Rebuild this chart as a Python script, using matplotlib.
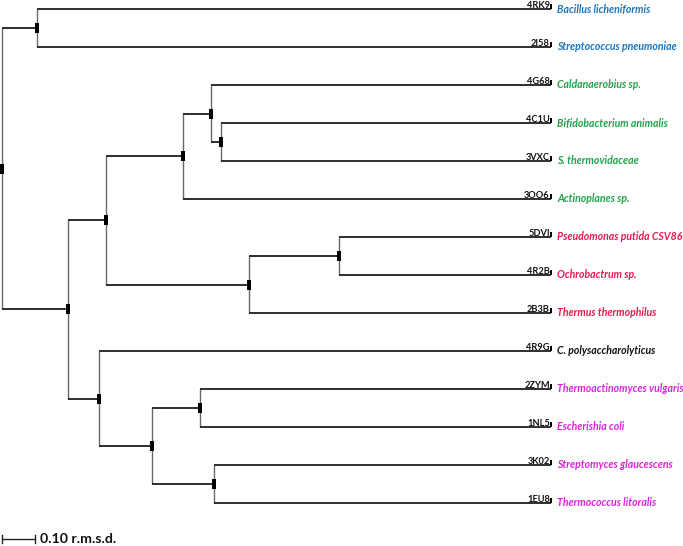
import matplotlib
matplotlib.use("Agg")
import matplotlib.pyplot as plt

# Leaves (top to bottom)
pdb_codes = ["4RK9", "2I58", "4G68", "4C1U", "3VXC", "3OO6", "5DVI", "4R2B",
             "2B3B", "4R9G", "2ZYM", "1NL5", "3K02", "1EU8"]
species = ["Bacillus licheniformis", "Streptococcus pneumoniae", "Caldanaerobius sp.",
           "Bifidobacterium animalis", "S. thermovidaceae", "Actinoplanes sp.",
           "Pseudomonas putida CSV86", "Ochrobactrum sp.", "Thermus thermophilus",
           "C. polysaccharolyticus", "Thermoactinomyces vulgaris", "Escherishia coli",
           "Streptomyces glaucescens", "Thermococcus litoralis"]
groups = ["blue", "blue", "green", "green", "green", "green", "red", "red", "red",
          "black", "magenta", "magenta", "magenta", "magenta"]
group_colors = {"blue": "#1b75bc", "green": "#1fa34a", "red": "#e8194f",
                "black": "#111111", "magenta": "#dd22dd"}
leaf_depth = 1.664  # r.m.s.d. distance of leaves from root

# Internal nodes: name -> (depth in r.m.s.d., children)
node_depth = {"root": 0.0, "A": 0.106, "B": 0.200, "C": 0.315, "D": 0.548,
              "E": 0.633, "F": 0.664, "G": 0.748, "H": 1.021, "I": 0.294,
              "J": 0.455, "K": 0.600, "L": 0.642}
node_children = {"root": ["A", "B"], "A": ["4RK9", "2I58"], "B": ["C", "I"],
                 "C": ["D", "G"], "D": ["E", "3OO6"], "E": ["4G68", "F"],
                 "F": ["4C1U", "3VXC"], "G": ["H", "2B3B"], "H": ["5DVI", "4R2B"],
                 "I": ["4R9G", "J"], "J": ["K", "L"], "K": ["2ZYM", "1NL5"],
                 "L": ["3K02", "1EU8"]}
scale_value = 0.10

W, H = 683, 546
fig = plt.figure(figsize=(W / 100, H / 100), dpi=100)
ax = fig.add_axes([0, 0, 1, 1])
ax.set_axis_off()
px_per_unit = 330.0
x0_px = 2.0
ax.set_xlim(-x0_px / px_per_unit, (W - x0_px) / px_per_unit)
y0_px, dy_px = 9.0, 38.0
ax.set_ylim((H - y0_px) / dy_px, -y0_px / dy_px)
renderer = fig.canvas.get_renderer()

def fit_size(s, target_px, **kw):
    t = fig.text(0, 0, s, fontsize=10, **kw)
    w = t.get_window_extent(renderer).width
    t.remove()
    return 10 * target_px / w

pos = {}
def place(n):
    if n in pdb_codes:
        pos[n] = (leaf_depth, pdb_codes.index(n))
        return pos[n]
    ys = [place(c)[1] for c in node_children[n]]
    pos[n] = (node_depth[n], sum(ys) / len(ys))
    return pos[n]
place("root")

hcol, vcol = "#1e1e1e", "#6a6a6a"
for n, ch in node_children.items():
    x, y = pos[n]
    cys = [pos[c][1] for c in ch]
    ax.plot([x, x], [min(cys), max(cys)], color=vcol, lw=1.0, solid_capstyle="butt", zorder=2)
    for c in ch:
        cx, cy = pos[c]
        ax.plot([x, cx], [cy, cy], color=hcol, lw=1.3, solid_capstyle="butt", zorder=3)

node_marker = [(-1, -2.3), (1, -2.3), (1, 2.3), (-1, 2.3), (-1, -2.3)]
for n in node_children:
    x, y = pos[n]
    ax.plot([x], [y], marker=node_marker, ms=7, color="black", mew=0, zorder=4)

code_kw = dict(family=["Liberation Sans Narrow", "Lato"], fontweight="bold")
sp_kw = dict(family="Lato", fontweight="bold", fontstyle="italic")
code_fs = fit_size("4RK9", 23, **code_kw)
sp_fs = fit_size("Bacillus licheniformis", 93, **sp_kw)

leaf_marker = [(-1, 0), (1, 0), (1, 3.4), (-1, 3.4), (-1, 0)]
for i, (code, sp, g) in enumerate(zip(pdb_codes, species, groups)):
    x, y = pos[code]
    ax.plot([x], [y], marker=leaf_marker, ms=7, color="black", mew=0, zorder=4)
    ax.text(x - 0.004, y - 0.03, code, ha="right", va="baseline", fontsize=code_fs,
            color="#111111", zorder=5, **code_kw)
    ax.text(x + 0.018, y, sp, ha="left", va="center", fontsize=sp_fs,
            color=group_colors[g], zorder=5, **sp_kw)

# scale bar
sb_y = (539 - y0_px) / dy_px
ax.plot([0, scale_value], [sb_y, sb_y], color="#222222", lw=1.0)
for xx in (0, scale_value):
    ax.plot([xx, xx], [sb_y - 0.1, sb_y + 0.1], color="#222222", lw=1.0)
sb_kw = dict(family="Lato", fontweight="bold")
sb_txt = "%.2f r.m.s.d." % scale_value
sb_fs = fit_size(sb_txt, 76, **sb_kw)
ax.text(scale_value + 0.015, sb_y, sb_txt, ha="left", va="center",
        fontsize=sb_fs, color="#111111", **sb_kw)

fig.savefig("out.png", dpi=100)
